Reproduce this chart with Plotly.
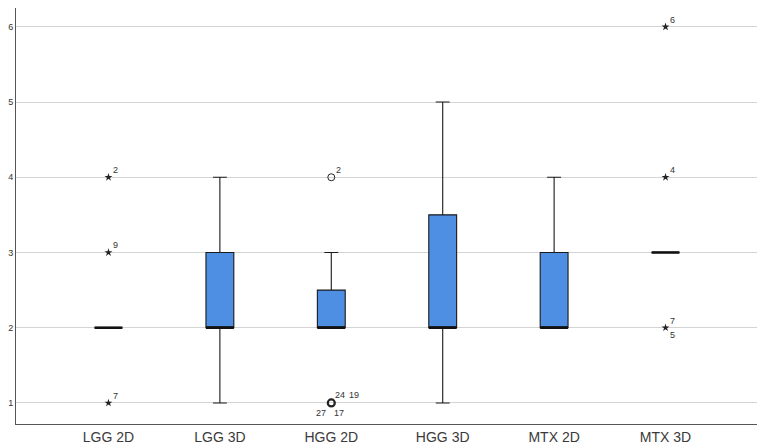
import plotly.graph_objects as go

# ---- data
CATEGORIES = ["LGG 2D", "LGG 3D", "HGG 2D", "HGG 3D", "MTX 2D", "MTX 3D"]
Q1 = [2, 2, 2, 2, 2, 3]
MEDIAN = [2, 2, 2, 2, 2, 3]
Q3 = [2, 3, 2.5, 3.5, 3, 3]
LOWER = [2, 1, 2, 1, 2, 3]
UPPER = [2, 4, 3, 5, 4, 3]

# outliers: (category index, value, kind)  kind: "o" = outlier, "*" = extreme
OUT_CAT = [0, 0, 0, 2, 2, 5, 5, 5]
OUT_VAL = [4, 3, 1, 4, 1, 6, 4, 2]
OUT_KIND = ["*", "*", "*", "o", "o", "*", "*", "*"]
OUT_MULTI = [1, 1, 1, 1, 4, 1, 1, 2]   # how many cases sit on the point

# case labels: (category index, value, text, dx, dy)
LAB_CAT = [0, 0, 0, 2, 2, 2, 2, 2, 5, 5, 5, 5]
LAB_VAL = [4, 3, 1, 4, 1, 1, 1, 1, 6, 4, 2, 2]
LAB_TXT = ["2", "9", "7", "2", "24", "19", "27", "17", "6", "4", "7", "5"]
LAB_DX = [7, 7, 7, 7, 9, 23, -10, 8, 7, 7, 7, 7]
LAB_DY = [7, 7, 7, 7, 8, 8, -10, -10, 7, 7, 7, -7]

BOX_FILL = "#4F8FE3"
X = list(range(len(CATEGORIES)))
HALF = 0.125

fig = go.Figure()
for i, c in enumerate(CATEGORIES):
    fig.add_trace(go.Box(
        x=[X[i]], q1=[Q1[i]], median=[MEDIAN[i]], q3=[Q3[i]],
        lowerfence=[LOWER[i]], upperfence=[UPPER[i]],
        width=0.25, whiskerwidth=0.5, boxpoints=False,
        fillcolor=BOX_FILL, line=dict(color="#1a1a1a", width=1.1),
        hoverinfo="skip", showlegend=False, name=c))

# thick median bars
mx, my = [], []
for i in X:
    mx += [i - HALF, i + HALF, None]
    my += [MEDIAN[i], MEDIAN[i], None]
fig.add_trace(go.Scatter(x=mx, y=my, mode="lines", line=dict(color="#111111", width=2.6),
                         hoverinfo="skip", showlegend=False))

# outliers / extremes
for kind, sym, size in (("*", "star", 6), ("o", "circle-open", 7)):
    idx = [k for k, kk in enumerate(OUT_KIND) if kk == kind]
    fig.add_trace(go.Scatter(
        x=[OUT_CAT[k] for k in idx], y=[OUT_VAL[k] for k in idx], mode="markers",
        marker=dict(symbol=sym, size=size, color="#222222",
                    line=dict(color="#222222", width=[2.2 if OUT_MULTI[k] > 2 else 1 for k in idx]
                              if kind == "o" else 0)),
        hoverinfo="skip", showlegend=False))

for c, v, t, dx, dy in zip(LAB_CAT, LAB_VAL, LAB_TXT, LAB_DX, LAB_DY):
    fig.add_annotation(x=c, y=v, text=t, showarrow=False, xshift=dx, yshift=dy,
                       font=dict(size=9, color="#333333", family="Liberation Sans"))

# page body has an 8px margin, so the figure is sized to fit inside it
fig.update_layout(
    width=757, height=440, paper_bgcolor="white", plot_bgcolor="white",
    margin=dict(l=8, r=7, t=0, b=24),
    font=dict(family="Liberation Sans", color="#333333"),
    xaxis=dict(range=[-0.83, 5.83], tickvals=X, ticktext=CATEGORIES, showgrid=False,
               zeroline=False, showline=True, linecolor="#555555", linewidth=1,
               ticks="", tickfont=dict(size=14, color="#3a3a3a")),
    yaxis=dict(range=[0.72, 6.25], tickvals=[1, 2, 3, 4, 5, 6], showgrid=True,
               gridcolor="#d4d4d4", gridwidth=1, zeroline=False, showline=True,
               linecolor="#555555", linewidth=1, ticks="",
               tickfont=dict(size=9, color="#333333")),
)

fig.write_html("out.html")
